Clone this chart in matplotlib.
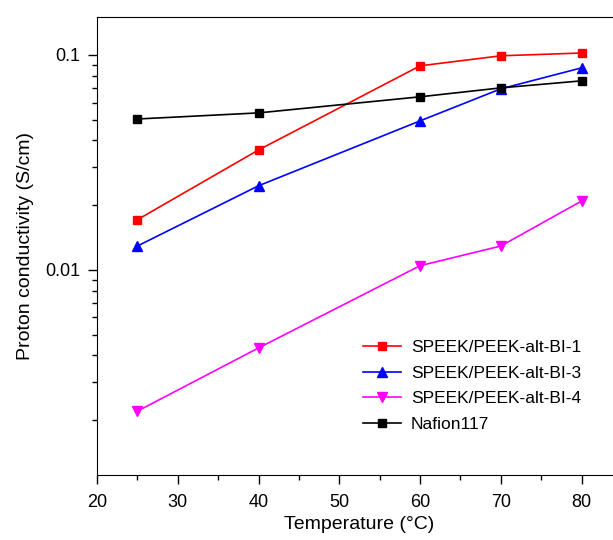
import matplotlib.pyplot as plt
from matplotlib.ticker import LogLocator, NullFormatter, FixedLocator, FuncFormatter

plt.rcParams['font.family'] = ['Liberation Sans', 'DejaVu Sans']

temps = [25, 40, 60, 70, 80]
speek_bi1 = [0.0171, 0.0361, 0.0889, 0.0990, 0.102]
speek_bi3 = [0.0129, 0.0246, 0.0493, 0.0695, 0.0870]
speek_bi4 = [0.0022, 0.00433, 0.01045, 0.0129, 0.0209]
nafion = [0.0503, 0.0537, 0.0638, 0.0702, 0.0757]

fig = plt.figure(figsize=(6.13, 5.4), dpi=100)
# axes run past the right edge, like the cropped original
ax = fig.add_axes([97/613, 65/540, 525/613, 458/540])

ax.plot(temps, speek_bi1, color='red', marker='s', ms=5.5, lw=1.2, label='SPEEK/PEEK-alt-BI-1')
ax.plot(temps, speek_bi3, color='blue', marker='^', ms=7, lw=1.2, label='SPEEK/PEEK-alt-BI-3')
ax.plot(temps, speek_bi4, color='magenta', marker='v', ms=7, lw=1.2, label='SPEEK/PEEK-alt-BI-4')
ax.plot(temps, nafion, color='black', marker='s', ms=5.5, lw=1.2, label='Nafion117')

ax.set_yscale('log')
ax.set_xlim(20, 85)
ax.set_ylim(0.00111, 0.150)

ax.xaxis.set_major_locator(FixedLocator([20, 30, 40, 50, 60, 70, 80]))
ax.xaxis.set_minor_locator(FixedLocator([25, 35, 45, 55, 65, 75, 85]))
ax.yaxis.set_major_locator(FixedLocator([0.01, 0.1]))
ax.yaxis.set_major_formatter(FuncFormatter(lambda v, p: '%g' % v))
ax.yaxis.set_minor_locator(LogLocator(base=10, subs=range(2, 10)))
ax.yaxis.set_minor_formatter(NullFormatter())

ax.tick_params(which='major', direction='out', length=6.5, width=1, labelsize=13)
ax.tick_params(which='minor', direction='out', length=3.5, width=1)
ax.tick_params(axis='x', which='major', pad=7.5)
ax.tick_params(axis='y', which='major', pad=5.5)
ax.spines['right'].set_visible(False)

ax.set_xlabel('Temperature (°C)', fontsize=14, labelpad=3)
ax.set_ylabel('Proton conductivity (S/cm)', fontsize=14, labelpad=8)

ax.legend(loc='upper left', bbox_to_anchor=(356/613, 1 - 333/540), bbox_transform=fig.transFigure,
          borderaxespad=0, frameon=False, fontsize=12.5,
          handlelength=2.2, handletextpad=0.55, labelspacing=0.6)

fig.savefig('out.png', dpi=100)
